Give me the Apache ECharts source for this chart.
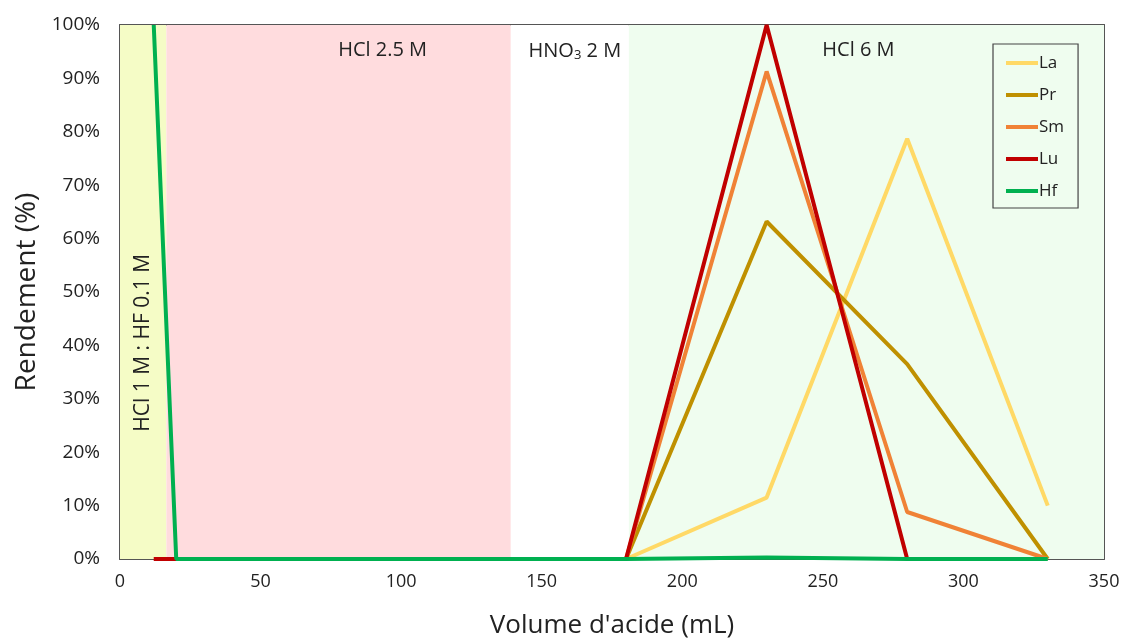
<!DOCTYPE html>
<html>
<head>
<meta charset="utf-8">
<script src="https://cdn.jsdelivr.net/npm/echarts@6/dist/echarts.min.js"></script>
<style>html,body{margin:0;padding:0;background:#fff;}#c{width:1124px;height:642px;}</style>
</head>
<body>
<div id="c"></div>
<script>
// Data (x = volume in mL, y = yield in %)
const seriesNames = ['La', 'Pr', 'Sm', 'Lu', 'Hf'];
const La = [[180, 0], [230, 11.5], [280, 78.7], [330, 10]];
const Pr = [[180, 0], [230, 63.2], [280, 36.5], [330, 0]];
const Sm = [[180, 0], [230, 91.3], [280, 8.8], [330, 0]];
const Lu = [[12, 0], [20, 0], [180, 0], [230, 100], [280, 0]];
const Hf = [[12, 100], [20, 0], [140, 0], [180, 0], [230, 0.3], [280, 0], [330, 0]];
// Eluent bands [start mL, end mL, label]
const bands = [
  [0, 16.5, 'HCl 1 M : HF 0.1 M'],
  [16.5, 139, 'HCl 2.5 M'],
  [139, 181, 'HNO{sub|3} 2 M'],
  [181, 350, 'HCl 6 M']
];
const xTicks = [0, 50, 100, 150, 200, 250, 300, 350];
const yTicks = [0, 10, 20, 30, 40, 50, 60, 70, 80, 90, 100];

const colors = {La: '#FFD966', Pr: '#BF9000', Sm: '#F08236', Lu: '#C00000', Hf: '#00B050'};
const bandColors = ['#F5FCC6', '#FFDCDE', '#FFFFFF', '#EFFDEF'];
const labelOffsets = [[0, 0], [44, 0], [5, 0], [-8, 0]];
const FONT = 'Open Sans';

const chart = echarts.init(document.getElementById('c'));
const dataMap = {La, Pr, Sm, Lu, Hf};

const markData = bands.map((b, i) => {
  const lbl = {show: i !== 0, position: 'insideTop', distance: 15, offset: labelOffsets[i],
    fontFamily: FONT, fontSize: 20, color: '#222',
    rich: {sub: {fontSize: 13, verticalAlign: 'bottom', padding: [9, 0, 0, 0], fontFamily: FONT, color: '#222'}}};
  return [{xAxis: b[0], yAxis: 0, itemStyle: {color: bandColors[i]}, label: lbl, name: b[2]}, {xAxis: b[1], yAxis: 100}];
});

const option = {
  animation: false,
  textStyle: {fontFamily: FONT},
  grid: {left: 120, right: 20, top: 25, bottom: 83, outerBoundsMode: 'none', containLabel: false},
  legend: {
    data: seriesNames, orient: 'vertical', left: 993, top: 44,
    backgroundColor: 'transparent', borderColor: '#444', borderWidth: 1.2,
    padding: [8, 14, 6, 13], itemWidth: 32, itemHeight: 4, itemGap: 10, icon: 'rect',
    textStyle: {fontFamily: FONT, fontSize: 17, color: '#222', padding: [0, 0, 0, -4], lineHeight: 22}
  },
  xAxis: [{
    type: 'value', min: 0, max: 350, interval: 50,
    name: "Volume d'acide (mL)", nameLocation: 'middle', nameGap: 54,
    nameTextStyle: {fontFamily: FONT, fontSize: 26, color: '#222'},
    axisLine: {show: true, lineStyle: {color: '#555', width: 2}},
    axisTick: {show: true, inside: true, length: 6, lineStyle: {color: '#555', width: 1.5}},
    axisLabel: {fontFamily: FONT, fontSize: 18, color: '#222', margin: 14,
      formatter: v => xTicks.includes(v) ? String(v) : ''},
    splitLine: {show: false}
  }, {
    type: 'value', position: 'top', min: 0, max: 350,
    axisLine: {show: true, onZero: false, lineStyle: {color: '#555', width: 2}},
    axisTick: {show: false}, axisLabel: {show: false}, splitLine: {show: false}
  }],
  yAxis: [{
    type: 'value', min: 0, max: 100, interval: 10,
    name: 'Rendement (%)', nameLocation: 'middle', nameGap: 79,
    nameTextStyle: {fontFamily: FONT, fontSize: 28, color: '#222'},
    axisLine: {show: true, lineStyle: {color: '#555', width: 2}},
    axisTick: {show: true, inside: true, length: 7, lineStyle: {color: '#555', width: 1.5}},
    axisLabel: {fontFamily: FONT, fontSize: 19, color: '#222', margin: 20,
      formatter: v => yTicks.includes(v) ? v + '%' : ''},
    splitLine: {show: false}
  }, {
    type: 'value', position: 'right', min: 0, max: 100,
    axisLine: {show: true, onZero: false, lineStyle: {color: '#555', width: 2}},
    axisTick: {show: false}, axisLabel: {show: false}, splitLine: {show: false}
  }],
  series: [{
    name: 'bands', type: 'line', data: [], z: 0, silent: true,
    markArea: {silent: true, data: markData}
  }].concat(seriesNames.map(n => ({
    name: n, type: 'line', data: dataMap[n], symbol: 'none', z: 3,
    lineStyle: {color: colors[n], width: 4}, itemStyle: {color: colors[n]}
  })))
};
chart.setOption(option);

// Vertical label for the first band, placed through the axes' scales
const p = chart.convertToPixel({xAxisIndex: 0, yAxisIndex: 0}, [(bands[0][0] + bands[0][1]) / 2, 40.5]);
chart.setOption({
  graphic: [{
    type: 'text', x: p[0], y: p[1], rotation: Math.PI / 2, z: 10,
    style: {text: bands[0][2], fontFamily: FONT, fontSize: 21, fill: '#222', align: 'center', verticalAlign: 'middle'}
  }]
});
</script>
</body>
</html>
